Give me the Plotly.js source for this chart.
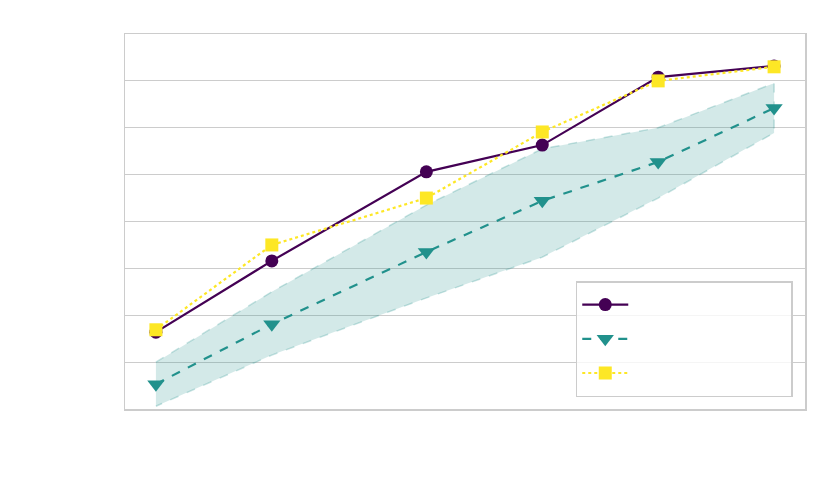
<!DOCTYPE html>
<html>
<head>
<meta charset="utf-8">
<script src="https://cdn.plot.ly/plotly-3.0.1.min.js"></script>
<style>html,body{margin:0;padding:0;background:#fff;}#chart{width:830px;height:498px;}</style>
</head>
<body>
<div id="chart"></div>
<script>
const xValues = [0, 3, 7, 10, 13, 16];
const circleSeries = [1.64, 3.16, 5.06, 5.63, 7.08, 7.32];
const triangleSeries = [0.53, 1.81, 3.35, 4.44, 5.27, 6.42];
const squareSeries = [1.69, 3.50, 4.50, 5.91, 7.00, 7.30];
const bandUpper = [1.00, 2.50, 4.35, 5.55, 6.00, 6.95];
const bandLower = [0.06, 1.15, 2.37, 3.24, 4.50, 5.89];
const legendNames = ['\u00a0'.repeat(20), '\u00a0'.repeat(20), '\u00a0'.repeat(20)];

const band = {
  x: xValues.concat(xValues.slice().reverse()),
  y: bandUpper.concat(bandLower.slice().reverse()),
  type: 'scatter', mode: 'lines', fill: 'toself',
  fillcolor: 'rgba(33,145,140,0.2)',
  line: {color: 'rgba(33,145,140,0.25)', width: 1.5, dash: 'dash'},
  showlegend: false, hoverinfo: 'skip'
};
const t1 = {
  x: xValues, y: circleSeries, type: 'scatter', mode: 'lines+markers',
  name: legendNames[0], legendgroup: 'a',
  line: {color: '#440154', width: 2.2},
  marker: {symbol: 'circle', size: 13, color: '#440154'}
};
const t2 = {
  x: xValues, y: triangleSeries, type: 'scatter', mode: 'lines+markers',
  name: legendNames[1], legendgroup: 'b',
  line: {color: '#21918c', width: 2.2, dash: 'dash'},
  marker: {symbol: 'triangle-down', size: 15, color: '#21918c'}
};
const t3 = {
  x: xValues, y: squareSeries, type: 'scatter', mode: 'lines+markers',
  name: legendNames[2], legendgroup: 'c',
  line: {color: '#fde725', width: 2.2, dash: 'dot'},
  marker: {symbol: 'square', size: 13, color: '#fde725'}
};

const layout = {
  width: 830, height: 498,
  margin: {l: 125, r: 25, t: 34, b: 89},
  paper_bgcolor: '#fff', plot_bgcolor: '#fff',
  font: {family: 'DejaVu Sans', size: 12, color: '#fff'},
  xaxis: {
    range: [-0.8, 16.8], showgrid: false, zeroline: false,
    showticklabels: false, ticks: '',
    showline: true, mirror: true, linecolor: '#cccccc', linewidth: 1.5
  },
  yaxis: {
    range: [0, 8], dtick: 1, showgrid: true, gridcolor: '#cccccc', gridwidth: 1.2,
    zeroline: false, showticklabels: false, ticks: '',
    showline: true, mirror: true, linecolor: '#cccccc', linewidth: 1.5
  },
  showlegend: true,
  legend: {
    x: 0.982, y: 0.032, xanchor: 'right', yanchor: 'bottom',
    bgcolor: 'rgba(255,255,255,0.8)', bordercolor: '#cccccc', borderwidth: 1.5,
    itemwidth: 46, tracegroupgap: 0, font: {size: 24, color: '#fff'},
    traceorder: 'normal'
  }
};

Plotly.newPlot('chart', [band, t1, t2, t3], layout, {staticPlot: true, displayModeBar: false});
</script>
</body>
</html>
